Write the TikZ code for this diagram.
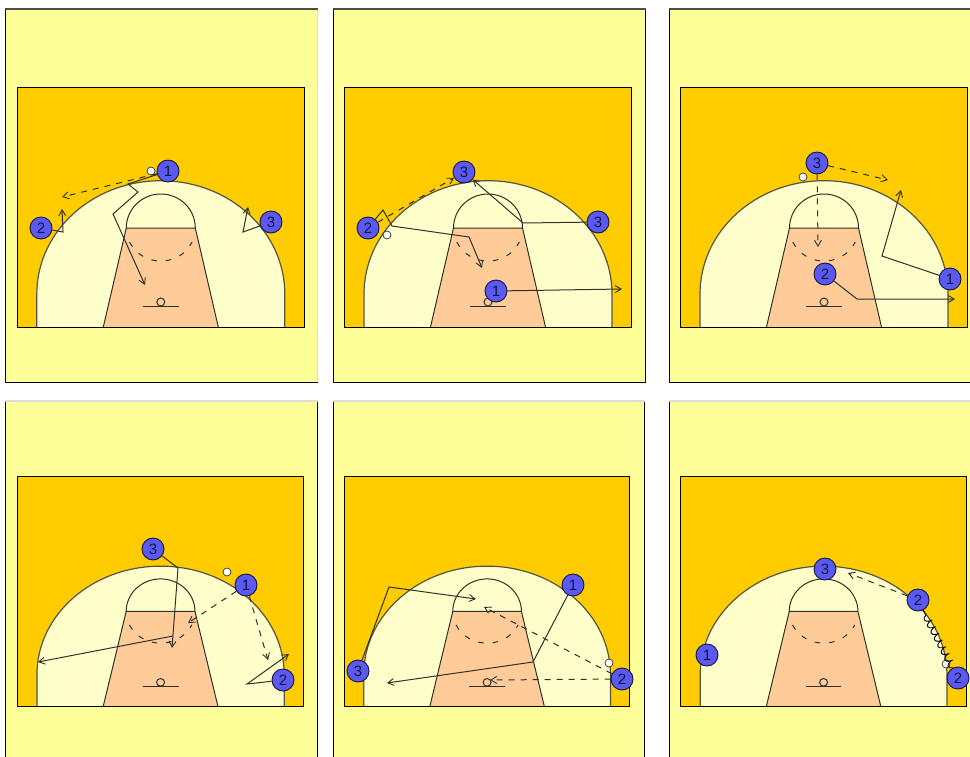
\documentclass[tikz,border=0pt]{standalone}
\usepackage{fontspec}
\setmainfont{Liberation Sans}
\usetikzlibrary{arrows.meta,decorations.pathmorphing}
\definecolor{panelc}{HTML}{FFFF99}
\definecolor{courtc}{HTML}{FFCC00}
\definecolor{arcc}{HTML}{FFFFCC}
\definecolor{keyc}{HTML}{FFCC99}
\definecolor{playerc}{HTML}{5A5AF2}
\definecolor{inkc}{HTML}{14143C}
\definecolor{linec}{HTML}{303028}
\definecolor{arcline}{HTML}{55553F}
\definecolor{paleedge}{HTML}{DCDCDC}
\tikzset{
  courtline/.style={draw=linec,line width=1pt},
  arcstroke/.style={draw=arcline,line width=1.2pt},
  player/.style={circle,draw=inkc,fill=playerc,line width=0.9pt,minimum size=22pt,inner sep=0pt,text=inkc,font=\fontsize{15}{15}\selectfont},
  ballmark/.style={circle,draw=linec,fill=white,line width=0.7pt,minimum size=8pt,inner sep=0pt},
  cut/.style={draw=linec,line width=1pt,-{Straight Barb[length=6pt,width=7pt,line width=0.9pt]}},
  pass/.style={draw=linec,line width=1pt,dash pattern=on 6pt off 6pt,-{Straight Barb[length=6pt,width=7pt,line width=0.9pt]}},
  dribble/.style={draw=black,line width=0.9pt,decorate,decoration={coil,amplitude=3.5pt,segment length=7.5pt,aspect=0.4}}
}
% panel: #1 left, #2 top, #3 right, #4 bottom, #5 right edge colour, #6 top edge colour
\newcommand{\paneldraw}[6]{%
  \fill[panelc] (#1,#2) rectangle (#3,#4);
  \draw[black,line width=1pt] (#1,#2) -- (#1,#4);
  \draw[black,line width=1pt] (#1,#4) -- (#3,#4);
  \draw[#5,line width=1pt] (#3,#2) -- (#3,#4);
  \draw[#6,line width=1.2pt] (#1,#2) -- (#3,#2);}
% court: #1 left, #2 bottom, #3 width scale, #4 height scale
\newcommand{\courtdraw}[4]{%
  \begin{scope}[shift={(#1,#2)},y=1pt,xscale=#3,yscale=#4]
    \fill[courtc] (0,0) rectangle (287,240);
    \path[fill=arcc] (19.5,0) -- (19.5,33) arc[start angle=180,end angle=0,x radius=124pt,y radius=113.3pt] -- (267.5,0) -- cycle;
    \draw[arcstroke] (19.5,0) -- (19.5,33) arc[start angle=180,end angle=0,x radius=124pt,y radius=113.3pt] -- (267.5,0);
    \path[fill=keyc] (86,0) -- (109,99) -- (178,99) -- (201,0) -- cycle;
    \draw[courtline] (86,0) -- (109,99) -- (178,99) -- (201,0);
    \draw[courtline] (109,99) arc[start angle=180,end angle=0,x radius=34.5pt,y radius=34pt];
    \draw[courtline,dash pattern=on 5.5pt off 9pt] (112.3,85) arc[start angle=205,end angle=335,x radius=34.5pt,y radius=33pt];
    \draw[courtline] (143.5,25) circle[radius=4pt];
    \draw[courtline] (125.5,20.5) -- (161.5,20.5);
    \draw[draw=black,line width=1pt] (0,0) rectangle (287,240);
  \end{scope}}
\begin{document}
\begin{tikzpicture}[x=1pt,y=-1pt]
\useasboundingbox (0,0) rectangle (970,756);
\fill[white] (0,0) rectangle (970,756);
% panels
\paneldraw{5}{9}{317.5}{382.3}{paleedge}{black!70}
\paneldraw{333}{9}{645.5}{382.3}{black}{black!70}
\paneldraw{669}{9}{985}{382.3}{black}{black!70}
\paneldraw{5}{401}{317.5}{780}{black}{paleedge}
\paneldraw{333}{401}{644.5}{780}{black}{paleedge}
\paneldraw{669}{401}{985}{780}{black}{paleedge}
% courts
\courtdraw{17.3}{327}{1}{1}
\courtdraw{344.5}{327}{1}{1}
\courtdraw{680.5}{327}{1}{1}
\courtdraw{17.5}{706.3}{0.997}{0.958}
\courtdraw{344.3}{706.3}{0.995}{0.958}
\courtdraw{680.8}{706.3}{0.995}{0.958}

% --- panel 1
\node[ballmark] (b1) at (151,171) {};
\node[player] (a1) at (168,171) {1};
\node[player] (a2) at (41,228) {2};
\node[player] (a3) at (271,222) {3};
\coordinate (a1w) at (128,184);
\coordinate (a1x) at (138,192);
\coordinate (a1y) at (113,214);
\coordinate (a1t) at (145,285);
\coordinate (a1p) at (62,197);
\coordinate (a2w) at (63,232);
\coordinate (a2t) at (62,209);
\coordinate (a3w) at (243,232);
\coordinate (a3t) at (248,207);
\draw[pass] (a1) -- (a1p);
\draw[cut] (a1) -- (a1w) -- (a1x) -- (a1y) -- (a1t);
\draw[cut] (a2) -- (a2w) -- (a2t);
\draw[cut] (a3) -- (a3w) -- (a3t);

% --- panel 2
\node[ballmark] (b2) at (387,235) {};
\node[player] (c3) at (464,172) {3};
\node[player] (c2) at (368,228) {2};
\node[player] (c4) at (598,222) {3};
\node[player] (c1) at (496,291) {1};
\coordinate (c2w) at (383,210);
\coordinate (c2x) at (392,226);
\coordinate (c2y) at (469,237);
\coordinate (c2t) at (482,268);
\coordinate (c4w) at (523,223);
\coordinate (c1t) at (622,289);
\draw[pass] (c2) -- (c3);
\draw[cut] (c2) -- (c2w) -- (c2x) -- (c2y) -- (c2t);
\draw[cut] (c4) -- (c4w) -- (c3);
\draw[cut] (c1) -- (c1t);

% --- panel 3
\node[ballmark] (b3) at (803,177) {};
\node[player] (d3) at (817,163) {3};
\node[player] (d1) at (950,279) {1};
\node[player] (d2) at (825,274) {2};
\coordinate (d3p) at (888,180);
\coordinate (d3q) at (818,247);
\coordinate (d1w) at (882,256);
\coordinate (d1t) at (901,190);
\coordinate (d2w) at (857,299);
\coordinate (d2t) at (955,299);
\draw[pass] (d3) -- (d3p);
\draw[pass] (d3) -- (d3q);
\draw[cut] (d1) -- (d1w) -- (d1t);
\draw[cut] (d2) -- (d2w) -- (d2t);

% --- panel 4
\node[ballmark] (b4) at (227,572) {};
\node[player] (e3) at (153,549) {3};
\node[player] (e1) at (246,585) {1};
\node[player] (e2) at (283,680) {2};
\coordinate (e3w) at (178,568);
\coordinate (e3t) at (172,648);
\coordinate (e3b) at (173,636);
\coordinate (e3e) at (38,662);
\coordinate (e1p) at (188,623);
\coordinate (e1q) at (268,660);
\coordinate (e2w) at (247,684);
\coordinate (e2t) at (289,654);
\draw[cut] (e3) -- (e3w) -- (e3t);
\draw[cut] (e3b) -- (e3e);
\draw[pass] (e1) -- (e1p);
\draw[pass] (e1) -- (e1q);
\draw[cut] (e2) -- (e2w) -- (e2t);

% --- panel 5
\node[ballmark] (b5) at (609,663) {};
\node[player] (f1) at (573,585) {1};
\node[player] (f3) at (358,671) {3};
\node[player] (f2) at (622,679) {2};
\coordinate (f1w) at (533,662);
\coordinate (f1t) at (387,683);
\coordinate (f3w) at (389,587);
\coordinate (f3t) at (476,599);
\coordinate (f2p) at (484,607);
\coordinate (f2q) at (490,680);
\draw[cut] (f1) -- (f1w) -- (f1t);
\draw[cut] (f3) -- (f3w) -- (f3t);
\draw[pass] (f2) -- (f2p);
\draw[pass] (f2) -- (f2q);

% --- panel 6
\node[ballmark] (b6) at (946,664) {};
\node[player] (g3) at (825,569) {3};
\node[player] (g2) at (918,600) {2};
\node[player] (g4) at (958,678) {2};
\node[player] (g1) at (707,655) {1};
\coordinate (g2p) at (848,573);
\draw[pass] (g2) -- (g2p);
\draw[dribble] (g4) -- (g2);
\end{tikzpicture}
\end{document}
